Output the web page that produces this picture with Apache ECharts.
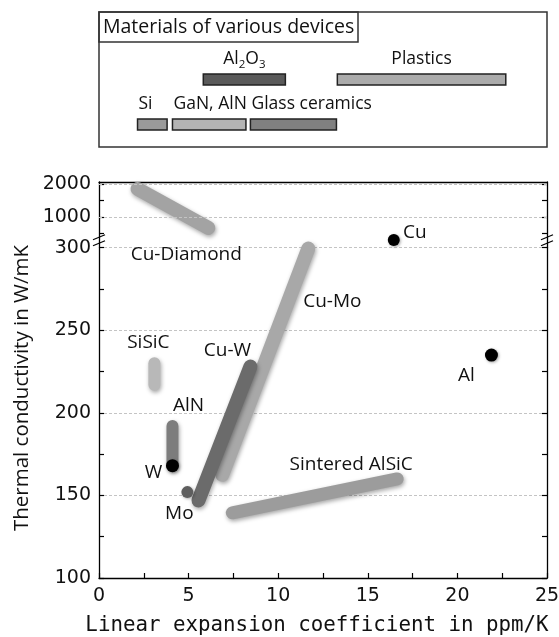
<!DOCTYPE html>
<html>
<head>
<meta charset="utf-8">
<script src="https://cdn.jsdelivr.net/npm/echarts@6/dist/echarts.min.js"></script>
<style>html,body{margin:0;padding:0;background:#fff;}#c{width:559px;height:637px;}</style>
</head>
<body>
<div id="c"></div>
<script>
// ---------- data ----------
const xTicks = [0, 5, 10, 15, 20, 25];
const lowerYTicks = [100, 150, 200, 250, 300];
const upperYTicks = [1000, 2000];
const upperYMinorTicks = [500, 1000, 1500, 2000];

const deviceNames = ['Al2O3', 'Plastics', 'Si', 'GaN, AlN', 'Glass ceramics'];
const deviceStart = [5.82, 13.3, 2.15, 4.1, 8.45];
const deviceEnd = [10.4, 22.7, 3.8, 8.2, 13.25];
const deviceRow = [1, 1, 0, 0, 0];

const cuDiamondX = [2.15, 6.1];   const cuDiamondY = [1850, 660];
const cuMoX = [6.88, 11.68];      const cuMoY = [162.5, 299.5];
const cuWX = [5.55, 8.45];        const cuWY = [147, 228];
const siSiCX = [3.09, 3.09];      const siSiCY = [217, 230];
const alNX = [4.1, 4.1];          const alNY = [168, 192];
const alSiCX = [7.44, 16.64];     const alSiCY = [139.5, 160];

const dotNames = ['W', 'Mo', 'Cu', 'Al'];
const dotX = [4.1, 4.93, 16.45, 21.9];
const dotY = [168, 152, 304.7, 235];

const xTitle = 'Linear expansion coefficient in ppm/K';
const yTitle = 'Thermal conductivity in W/mK';
const boxTitle = 'Materials of various devices';

// ---------- styles ----------
const deviceColors = ['#5a5a5a', '#ababab', '#9a9a9a', '#b4b4b4', '#808080'];
const dotColors = ['#000', '#5e5e5e', '#000', '#000'];
const dotSizes = [13, 12, 12, 13];
const dotLabelOffsets = [[-19, 7], [-8, 21], [21, -7], [-25, 21]];
const labelFont = 'Open Sans';
const numFont = 'DejaVu Sans';
const gridLineStyle = { type: [3, 2], color: '#c4c4c4', width: 1 };
const plainNum = v => String(v);

const chart = echarts.init(document.getElementById('c'), null, { renderer: 'canvas' });

function segment(name, xs, ys, color, width, labelIdx, offset, axisIdx) {
  const data = xs.map((x, i) => {
    const item = { value: [x, ys[i]] };
    if (i === labelIdx) {
      item.label = {
        show: true, formatter: name, position: 'inside', offset: offset,
        fontFamily: labelFont, fontSize: 19, color: '#111'
      };
    }
    return item;
  });
  return {
    type: 'line', name: name, xAxisIndex: axisIdx[0], yAxisIndex: axisIdx[1],
    data: data, clip: false, symbol: 'circle', symbolSize: 0, showSymbol: true,
    lineStyle: {
      color: color, width: width, cap: 'round',
      shadowColor: 'rgba(0,0,0,0.35)', shadowBlur: 4, shadowOffsetX: 1, shadowOffsetY: 2
    },
    itemStyle: { color: color, opacity: 1 },
    emphasis: { disabled: true }, z: 3, animation: false
  };
}

const axisLineStyle = { show: true, lineStyle: { color: '#000', width: 1.3 } };
const tickLine = { color: '#000', width: 1.2 };

const option = {
  animation: false,
  backgroundColor: '#fff',
  title: {
    text: boxTitle, left: 99, top: 12, padding: [2, 4],
    borderColor: '#333', borderWidth: 1.5,
    textStyle: { fontFamily: labelFont, fontSize: 19.5, fontWeight: 'normal', color: '#111', lineHeight: 26 }
  },
  grid: [
    { left: 99, right: 12, top: 182, height: 65.7, outerBoundsMode: 'none' },
    { left: 99, right: 12, top: 247.7, height: 330.3, outerBoundsMode: 'none' },
    { left: 99, right: 12, top: 12, height: 135, show: true, borderColor: '#333', borderWidth: 1.5,
      backgroundColor: 'transparent', outerBoundsMode: 'none' }
  ],
  xAxis: [
    { gridIndex: 0, type: 'value', min: 0, max: 25, interval: 5, position: 'top',
      axisLine: axisLineStyle, axisTick: { show: false }, axisLabel: { show: false }, splitLine: { show: false } },
    { gridIndex: 1, type: 'value', min: 0, max: 25, interval: 5, position: 'bottom',
      axisLine: axisLineStyle,
      axisTick: { show: true, inside: true, length: 5, lineStyle: tickLine },
      minorTick: { show: true, splitNumber: 2, length: 5, lineStyle: tickLine },
      axisLabel: { fontFamily: numFont, fontSize: 19, color: '#111', margin: 9,
        customValues: xTicks, formatter: plainNum },
      splitLine: { show: false } },
    { gridIndex: 2, type: 'value', min: 0, max: 25, show: false }
  ],
  yAxis: [
    { gridIndex: 0, type: 'value', min: 60, max: 2060, position: 'left',
      axisLine: axisLineStyle,
      axisTick: { show: true, inside: true, length: 5, customValues: upperYMinorTicks, lineStyle: tickLine },
      axisLabel: { fontFamily: numFont, fontSize: 19, color: '#111', margin: 8, customValues: upperYTicks, formatter: plainNum },
      splitLine: { show: false } },
    { gridIndex: 0, type: 'value', min: 60, max: 2060, position: 'right',
      axisLine: axisLineStyle,
      axisTick: { show: true, inside: true, length: 5, customValues: upperYMinorTicks, lineStyle: tickLine },
      axisLabel: { show: false }, splitLine: { show: false } },
    { gridIndex: 1, type: 'value', min: 100, max: 300, interval: 50, position: 'left',
      axisLine: axisLineStyle,
      axisTick: { show: true, inside: true, length: 5, lineStyle: tickLine },
      minorTick: { show: true, splitNumber: 2, length: 5, lineStyle: tickLine },
      axisLabel: { fontFamily: numFont, fontSize: 19, color: '#111', margin: 8, customValues: lowerYTicks, formatter: plainNum },
      splitLine: { show: true, lineStyle: gridLineStyle } },
    { gridIndex: 1, type: 'value', min: 100, max: 300, interval: 50, position: 'right',
      axisLine: axisLineStyle,
      axisTick: { show: true, inside: true, length: 5, lineStyle: tickLine },
      minorTick: { show: true, splitNumber: 2, length: 5, lineStyle: tickLine },
      axisLabel: { show: false }, splitLine: { show: false } },
    { gridIndex: 2, type: 'category', data: ['0', '1', '2'], show: false }
  ],
  series: [
    // upper grid gridlines
    { type: 'line', xAxisIndex: 0, yAxisIndex: 0, data: [], z: 1, silent: true,
      markLine: { silent: true, symbol: 'none', label: { show: false }, lineStyle: gridLineStyle,
        data: upperYTicks.map(v => ({ yAxis: v })), animation: false } },
    segment('Cu-Diamond', cuDiamondX, cuDiamondY, '#a3a3a3', 14, 1, [-22, 27], [0, 0]),
    segment('Cu-Mo', cuMoX, cuMoY, '#a8a8a8', 14, 1, [24, 53], [1, 2]),
    segment('Sintered AlSiC', alSiCX, alSiCY, '#9c9c9c', 13, 1, [-46, -14], [1, 2]),
    segment('SiSiC', siSiCX, siSiCY, '#b8b8b8', 12, 1, [-6, -21], [1, 2]),
    segment('AlN', alNX, alNY, '#7d7d7d', 12, 1, [16, -20], [1, 2]),
    segment('Cu-W', cuWX, cuWY, '#6b6b6b', 14, 1, [-23, -16], [1, 2]),
    {
      type: 'scatter', xAxisIndex: 1, yAxisIndex: 2, clip: false, z: 4,
      data: dotNames.map((n, i) => ({
        name: n, value: [dotX[i], dotY[i]], symbolSize: dotSizes[i],
        itemStyle: { color: dotColors[i], opacity: 1, shadowColor: 'rgba(0,0,0,0.35)', shadowBlur: 3, shadowOffsetX: 1, shadowOffsetY: 1 },
        label: { show: true, formatter: n, position: 'inside', offset: dotLabelOffsets[i],
          fontFamily: labelFont, fontSize: 19, color: '#111' }
      })),
      emphasis: { disabled: true }
    },
    {
      type: 'custom', xAxisIndex: 2, yAxisIndex: 4, z: 3,
      data: deviceNames.map((n, i) => [deviceStart[i], deviceEnd[i], deviceRow[i]]),
      renderItem: function (params, api) {
        const i = params.dataIndex;
        const row = api.value(2);
        const s = api.coord([api.value(0), row]);
        const e = api.coord([api.value(1), row]);
        const h = 11;
        const name = deviceNames[i];
        const richText = name.replace(/(\d)/g, '{s|$1}');
        return {
          type: 'group',
          children: [
            { type: 'rect', shape: { x: s[0], y: s[1] - h / 2, width: e[0] - s[0], height: h },
              style: { fill: deviceColors[i], stroke: '#222', lineWidth: 1.5 } },
            { type: 'text', x: row === 1 ? (s[0] + e[0]) / 2 : s[0] + 1, y: s[1] - 20,
              style: { text: richText, align: row === 1 ? 'center' : 'left', verticalAlign: 'middle',
                fontFamily: labelFont, fontSize: 17.5, fill: '#111', lineHeight: 22,
                rich: { s: { fontFamily: labelFont, fontSize: 11.5, lineHeight: 11, verticalAlign: 'bottom', fill: '#111' } } } }
          ]
        };
      }
    }
  ],
  graphic: []
};

chart.setOption(option);

// axis titles and axis-break marks
const p300 = chart.convertToPixel({ xAxisIndex: 1, yAxisIndex: 2 }, [0, 300]);
const p300r = chart.convertToPixel({ xAxisIndex: 1, yAxisIndex: 2 }, [25, 300]);
function breakMark(x, y) {
  return {
    type: 'group', x: x, y: y, z: 100,
    children: [
      { type: 'polygon', shape: { points: [[-6, 0], [6, -5], [6, 1], [-6, 6]] }, style: { fill: '#fff' } },
      { type: 'line', shape: { x1: -6, y1: 0, x2: 6, y2: -5 }, style: { stroke: '#000', lineWidth: 1.2 } },
      { type: 'line', shape: { x1: -6, y1: 6, x2: 6, y2: 1 }, style: { stroke: '#000', lineWidth: 1.2 } }
    ]
  };
}
chart.setOption({
  graphic: [
    breakMark(p300[0], p300[1] - 8),
    breakMark(p300r[0], p300r[1] - 8),
    { type: 'text', x: 22, y: 388, rotation: Math.PI / 2,
      style: { text: yTitle, align: 'center', verticalAlign: 'middle',
        fontFamily: labelFont, fontSize: 20.5, fill: '#111' } },
    { type: 'text', x: 317, y: 626,
      style: { text: xTitle, align: 'center', verticalAlign: 'middle',
        fontFamily: 'DejaVu Sans Mono', fontSize: 20.8, fill: '#111' } }
  ]
});
</script>
</body>
</html>
